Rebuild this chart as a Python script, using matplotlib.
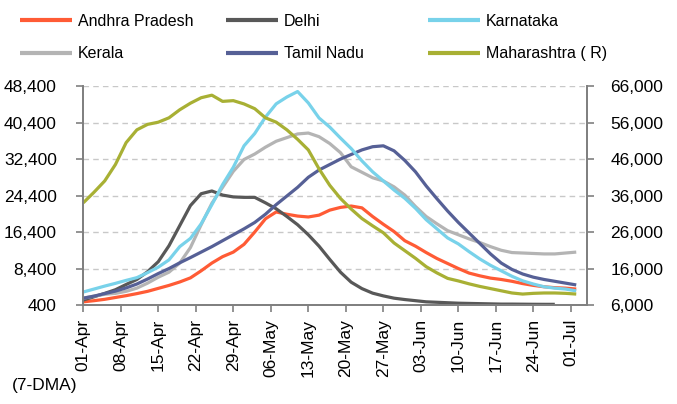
import numpy as np
import pandas as pd
import matplotlib
matplotlib.use("Agg")
import matplotlib.pyplot as plt
from matplotlib.ticker import FuncFormatter
import matplotlib.dates as mdates

plt.rcParams['font.family'] = ['Liberation Sans', 'DejaVu Sans']

# 7-day moving average of daily cases, read every 2 days from 01-Apr-2021
dates = pd.date_range('2021-04-01', periods=47, freq='2D')

andhra = [1100, 1350, 1650, 2050, 2450, 2900, 3400, 4050, 4700, 5450, 6350, 7900,
          9600, 11000, 12000, 13700, 16400, 19300, 20800, 20300, 19900, 19700, 20100,
          21200, 21800, 22100, 21700, 19800, 18100, 16500, 14500, 13300, 11900, 10600,
          9500, 8400, 7400, 6800, 6300, 6000, 5600, 5100, 4700, 4400, 4200, 4100, 3900]
delhi = [1500, 2200, 2950, 3750, 4900, 6000, 7700, 9900, 13400, 17800, 22200, 24800,
         25400, 24500, 24100, 24000, 24000, 22800, 21500, 19800, 18000, 15800, 13300,
         10400, 7600, 5400, 4000, 3000, 2400, 1900, 1600, 1350, 1100, 1000, 900, 800,
         750, 700, 650, 600, 600, 580, 560, 550, 550, np.nan, np.nan]
karnataka = [3250, 3900, 4550, 5150, 5800, 6400, 7500, 8700, 10300, 13200, 15000, 18200,
             22400, 26800, 30600, 35300, 38000, 41600, 44500, 46000, 47200, 44700, 41400,
             39400, 37000, 34700, 32000, 29600, 27600, 25600, 23800, 21600, 19100, 17100,
             15100, 13800, 12100, 10500, 9100, 7900, 6700, 5700, 5000, 4400, 4100, 3900, 3500]
kerala = [1900, 2350, 2750, 2950, 3400, 4100, 5200, 6500, 7600, 9600, 13000, 18000,
          22700, 26200, 29700, 32300, 33500, 35000, 36300, 37100, 37900, 38100, 37300,
          35800, 33800, 30700, 29500, 28300, 27600, 26300, 24500, 22000, 19800, 18200,
          16700, 15800, 14900, 14100, 13200, 12400, 11900, 11800, 11700, 11600, 11600,
          11800, 12000]
tamil_nadu = [1900, 2350, 2900, 3450, 4150, 5000, 6100, 7300, 8400, 9650, 10800, 12000,
              13200, 14500, 15800, 17100, 18500, 20300, 22400, 24300, 26200, 28400, 30000,
              31200, 32400, 33400, 34400, 35100, 35300, 34200, 32100, 29600, 26500, 23700,
              21000, 18500, 16200, 13900, 11600, 9600, 8200, 7200, 6500, 6000, 5600, 5200, 4800]
maharashtra = [34000, 36900, 40000, 44500, 50500, 54000, 55500, 56100, 57300, 59500,
               61300, 62800, 63500, 61800, 62000, 61100, 59800, 57300, 56100, 54000,
               51400, 48500, 43300, 38800, 35200, 32300, 29700, 27700, 25800, 23000,
               20900, 18800, 16500, 14800, 13300, 12600, 11800, 11100, 10500, 9900,
               9300, 9000, 9200, 9300, 9300, 9200, 9000]

left_ticks = [400, 8400, 16400, 24400, 32400, 40400, 48400]
right_ticks = [6000, 16000, 26000, 36000, 46000, 56000, 66000]
x_ticks = pd.date_range('2021-04-01', '2021-07-01', freq='7D')

c_ap = '#FF5B35'
c_dl = '#585858'
c_ka = '#78D2EA'
c_kl = '#B4B4B4'
c_tn = '#566096'
c_mh = '#A8B034'
axis_c = '#808080'
fs = 12.5
fs_leg = 11.5

fig = plt.figure(figsize=(6.77, 4.04), dpi=100)
ax = fig.add_axes([0.123, 0.245, 0.744, 0.542])
ax2 = ax.twinx()

kw = dict(lw=2.3, solid_joinstyle='round', solid_capstyle='butt')
l_ap, = ax.plot(dates, andhra, color=c_ap, label='Andhra Pradesh', **kw)
l_dl, = ax.plot(dates, delhi, color=c_dl, label='Delhi', **kw)
l_kl, = ax.plot(dates, kerala, color=c_kl, label='Kerala', **kw)
l_tn, = ax.plot(dates, tamil_nadu, color=c_tn, label='Tamil Nadu', **kw)
l_ka, = ax.plot(dates, karnataka, color=c_ka, label='Karnataka', **kw)
l_mh, = ax2.plot(dates, maharashtra, color=c_mh, label='Maharashtra ( R)', **kw)

ax.set_ylim(400, 48400)
ax2.set_ylim(6000, 66000)
ax.set_xlim(pd.Timestamp('2021-04-01'), pd.Timestamp('2021-04-01') + pd.Timedelta(days=94))

ax.set_yticks(left_ticks)
ax2.set_yticks(right_ticks)
comma = FuncFormatter(lambda v, p: f'{int(v):,}')
ax.yaxis.set_major_formatter(comma)
ax2.yaxis.set_major_formatter(comma)

ax.set_xticks(x_ticks)
ax.xaxis.set_major_formatter(mdates.DateFormatter('%d-%b'))
for lab in ax.get_xticklabels():
    lab.set_rotation(90)

ax.grid(axis='y', color='#C8C8C8', lw=1, dashes=(4, 3))
ax.set_axisbelow(True)

for a in (ax, ax2):
    a.spines['top'].set_visible(False)
    for s in ('left', 'right', 'bottom'):
        a.spines[s].set_color(axis_c)
        a.spines[s].set_linewidth(1.3)
    a.tick_params(colors=axis_c, labelcolor='black', labelsize=fs, width=1.2, length=5)
ax.tick_params(axis='y', pad=14)
ax2.tick_params(axis='y', pad=12)
ax.tick_params(axis='x', pad=5)

cols = [([l_ap, l_kl], 0.0295), ([l_dl, l_tn], 0.334), ([l_ka, l_mh], 0.632)]
for handles, xpos in cols:
    leg = fig.legend(handles=handles, loc='center left', bbox_to_anchor=(xpos, 0.907),
                     frameon=False, fontsize=fs_leg, borderpad=0, borderaxespad=0,
                     handlelength=3.25, handletextpad=0.37, labelspacing=1.1)
    for h in leg.get_lines():
        h.set_linewidth(3)

fig.text(12 / 677, 0.047, '(7-DMA)', fontsize=fs, va='center', ha='left')

fig.savefig('out.png', dpi=100)
